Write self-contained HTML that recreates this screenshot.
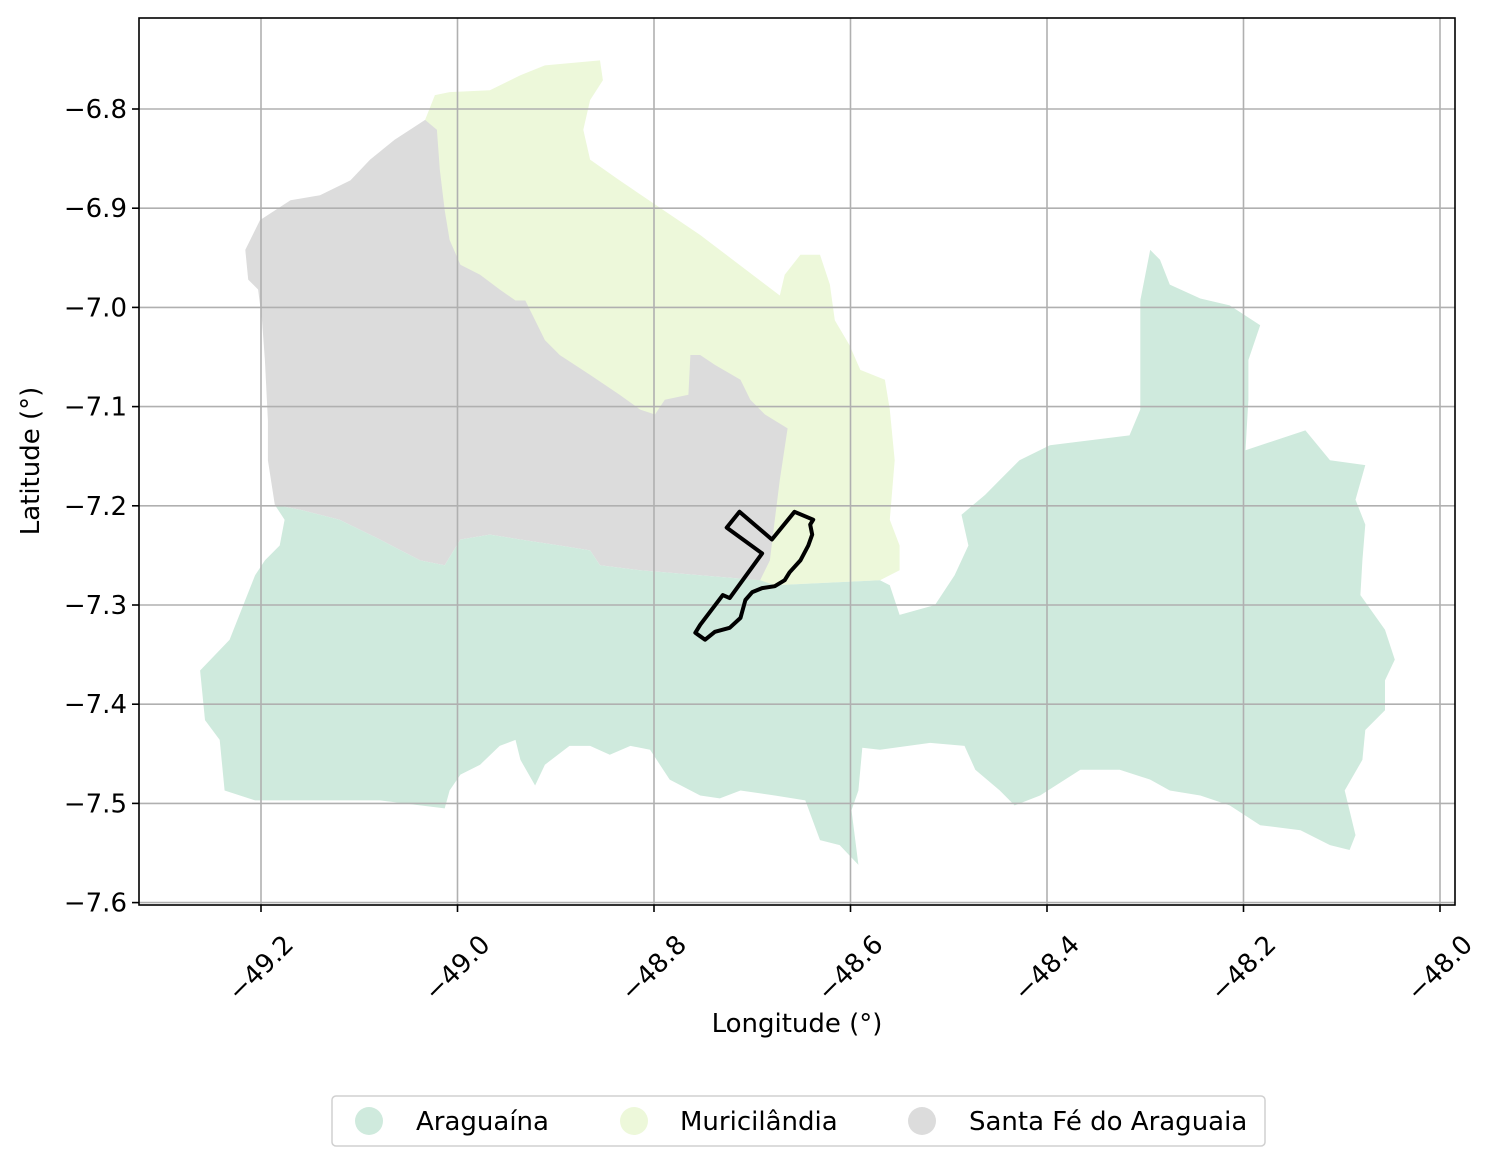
<!DOCTYPE html>
<html><head><meta charset="utf-8"><style>
html,body{margin:0;padding:0;background:#fff;}
svg{display:block;font-family:"DejaVu Sans","Liberation Sans",sans-serif;}
</style></head><body>
<svg id="chart" width="1498" height="1165" viewBox="0 0 1498 1165" xmlns="http://www.w3.org/2000/svg">
<g id="regions"></g>
<g id="grid"></g>
<g id="outline"></g>
<g id="axes"></g>
<text x="797" y="1032" font-size="26" text-anchor="middle">Longitude (°)</text>
<text transform="translate(39,461) rotate(-90)" font-size="26" text-anchor="middle">Latitude (°)</text>
<g>
<rect x="332" y="1096" width="933" height="50" rx="4" fill="#fff" stroke="#d0d0d0" stroke-width="1.5"/>
<g><circle cx="369" cy="1121" r="14" fill="#cfeadd"/><text x="416" y="1130" font-size="26">Araguaína</text></g>
<g><circle cx="634" cy="1121" r="14" fill="#edf8da"/><text x="680" y="1130" font-size="26">Muricilândia</text></g>
<g><circle cx="922" cy="1121" r="14" fill="#dcdcdc"/><text x="969" y="1130" font-size="26">Santa Fé do Araguaia</text></g>
</g>
</svg>
<script>
const xTicks=[-49.2,-49.0,-48.8,-48.6,-48.4,-48.2,-48.0];
const xTickLabels=["−49.2","−49.0","−48.8","−48.6","−48.4","−48.2","−48.0"];
const yTicks=[-6.8,-6.9,-7.0,-7.1,-7.2,-7.3,-7.4,-7.5,-7.6];
const yTickLabels=["−6.8","−6.9","−7.0","−7.1","−7.2","−7.3","−7.4","−7.5","−7.6"];
const muricilandia=[[-49.033,-6.811],[-49.023,-6.786],[-49.008,-6.783],[-48.967,-6.781],[-48.936,-6.766],[-48.911,-6.756],[-48.855,-6.751],[-48.852,-6.771],[-48.865,-6.791],[-48.872,-6.821],[-48.865,-6.851],[-48.835,-6.872],[-48.753,-6.927],[-48.672,-6.988],[-48.667,-6.967],[-48.651,-6.947],[-48.631,-6.947],[-48.621,-6.977],[-48.616,-7.013],[-48.601,-7.038],[-48.590,-7.063],[-48.565,-7.073],[-48.560,-7.103],[-48.555,-7.154],[-48.560,-7.214],[-48.550,-7.240],[-48.550,-7.265],[-48.570,-7.275],[-48.677,-7.280],[-48.753,-7.265],[-48.957,-7.144],[-49.018,-6.892]];
const santaFe=[[-49.033,-6.811],[-49.021,-6.821],[-49.018,-6.861],[-49.013,-6.902],[-49.008,-6.932],[-48.997,-6.957],[-48.977,-6.967],[-48.957,-6.982],[-48.941,-6.993],[-48.931,-6.993],[-48.921,-7.013],[-48.911,-7.033],[-48.896,-7.048],[-48.865,-7.068],[-48.835,-7.088],[-48.814,-7.103],[-48.799,-7.108],[-48.789,-7.093],[-48.765,-7.088],[-48.763,-7.048],[-48.753,-7.048],[-48.738,-7.058],[-48.712,-7.073],[-48.702,-7.093],[-48.687,-7.108],[-48.664,-7.122],[-48.672,-7.174],[-48.677,-7.214],[-48.682,-7.255],[-48.692,-7.275],[-48.753,-7.270],[-48.814,-7.265],[-48.855,-7.260],[-48.865,-7.245],[-48.896,-7.240],[-48.936,-7.234],[-48.967,-7.229],[-48.997,-7.234],[-49.013,-7.260],[-49.038,-7.255],[-49.079,-7.234],[-49.120,-7.214],[-49.160,-7.204],[-49.186,-7.199],[-49.193,-7.154],[-49.193,-7.114],[-49.196,-7.053],[-49.199,-7.013],[-49.203,-6.982],[-49.213,-6.972],[-49.216,-6.942],[-49.201,-6.912],[-49.170,-6.892],[-49.140,-6.887],[-49.109,-6.872],[-49.089,-6.851],[-49.064,-6.831]];
const araguaina=[[-49.186,-7.199],[-49.160,-7.204],[-49.120,-7.214],[-49.079,-7.234],[-49.038,-7.255],[-49.013,-7.260],[-48.997,-7.234],[-48.967,-7.229],[-48.936,-7.234],[-48.896,-7.240],[-48.865,-7.245],[-48.855,-7.260],[-48.814,-7.265],[-48.753,-7.270],[-48.692,-7.275],[-48.677,-7.280],[-48.570,-7.275],[-48.560,-7.280],[-48.550,-7.310],[-48.514,-7.300],[-48.494,-7.270],[-48.480,-7.240],[-48.487,-7.209],[-48.463,-7.189],[-48.448,-7.174],[-48.428,-7.154],[-48.397,-7.139],[-48.356,-7.134],[-48.316,-7.129],[-48.305,-7.103],[-48.305,-6.993],[-48.295,-6.942],[-48.285,-6.952],[-48.275,-6.977],[-48.244,-6.991],[-48.214,-6.998],[-48.183,-7.018],[-48.195,-7.053],[-48.195,-7.093],[-48.198,-7.144],[-48.137,-7.124],[-48.112,-7.154],[-48.076,-7.159],[-48.086,-7.194],[-48.076,-7.219],[-48.079,-7.255],[-48.081,-7.290],[-48.056,-7.325],[-48.046,-7.355],[-48.056,-7.376],[-48.056,-7.406],[-48.076,-7.426],[-48.079,-7.456],[-48.097,-7.487],[-48.086,-7.532],[-48.092,-7.547],[-48.112,-7.542],[-48.142,-7.527],[-48.183,-7.522],[-48.214,-7.502],[-48.244,-7.492],[-48.275,-7.487],[-48.295,-7.476],[-48.326,-7.466],[-48.366,-7.466],[-48.407,-7.492],[-48.433,-7.502],[-48.448,-7.487],[-48.473,-7.466],[-48.484,-7.442],[-48.519,-7.439],[-48.570,-7.446],[-48.588,-7.444],[-48.592,-7.487],[-48.599,-7.507],[-48.592,-7.562],[-48.611,-7.542],[-48.631,-7.537],[-48.646,-7.497],[-48.677,-7.492],[-48.712,-7.487],[-48.733,-7.495],[-48.753,-7.492],[-48.784,-7.476],[-48.804,-7.446],[-48.824,-7.442],[-48.845,-7.451],[-48.865,-7.442],[-48.886,-7.442],[-48.911,-7.461],[-48.921,-7.482],[-48.936,-7.456],[-48.941,-7.436],[-48.957,-7.442],[-48.977,-7.461],[-48.997,-7.471],[-49.008,-7.487],[-49.013,-7.505],[-49.038,-7.502],[-49.079,-7.497],[-49.130,-7.497],[-49.170,-7.497],[-49.206,-7.497],[-49.237,-7.487],[-49.242,-7.436],[-49.257,-7.416],[-49.262,-7.366],[-49.232,-7.335],[-49.216,-7.295],[-49.206,-7.270],[-49.196,-7.255],[-49.181,-7.240],[-49.176,-7.214]];
const cityOutline=[[-48.758,-7.328],[-48.748,-7.335],[-48.738,-7.327],[-48.723,-7.323],[-48.712,-7.313],[-48.707,-7.295],[-48.700,-7.287],[-48.690,-7.283],[-48.677,-7.281],[-48.667,-7.275],[-48.662,-7.267],[-48.651,-7.255],[-48.643,-7.240],[-48.639,-7.229],[-48.641,-7.219],[-48.638,-7.214],[-48.657,-7.206],[-48.680,-7.234],[-48.713,-7.206],[-48.726,-7.222],[-48.690,-7.248],[-48.723,-7.293],[-48.730,-7.290],[-48.753,-7.320]];

const NS='http://www.w3.org/2000/svg';
const X0=139,X1=1455,Y0=18,Y1=905;
function xs(lon){return 261+(lon+49.2)*982.5;}
function ys(lat){return 109+(-6.8-lat)*992;}
function pts(arr){return arr.map(p=>xs(p[0]).toFixed(1)+','+ys(p[1]).toFixed(1)).join(' ');}
const regions=document.getElementById('regions');
function poly(parent,arr,fill,stroke,sw){
  const el=document.createElementNS(NS,'polygon');
  el.setAttribute('points',pts(arr));
  el.setAttribute('fill',fill);
  if(stroke){el.setAttribute('stroke',stroke);el.setAttribute('stroke-width',sw);el.setAttribute('stroke-linejoin','round');}
  parent.appendChild(el);return el;
}
let e;
e=poly(regions,muricilandia,'#edf8da');


e=poly(regions,santaFe,'#dcdcdc');


e=poly(regions,araguaina,'#cfeadd');



const grid=document.getElementById('grid');
const axes=document.getElementById('axes');
function line(parent,x1,y1,x2,y2,c,w){const l=document.createElementNS(NS,'line');l.setAttribute('x1',x1);l.setAttribute('y1',y1);l.setAttribute('x2',x2);l.setAttribute('y2',y2);l.setAttribute('stroke',c);l.setAttribute('stroke-width',w);parent.appendChild(l);return l;}
xTicks.forEach((v,i)=>{
  const x=xs(v);
  let g=line(grid,x,Y0,x,Y1,'#b0b0b0',1.6);
  
  
  let t=line(axes,x,Y1,x,Y1+7,'#000',1.6);
  
  
  const tx=document.createElementNS(NS,'text');
  tx.setAttribute('x',x+34);tx.setAttribute('y',946);
  tx.setAttribute('transform','rotate(-45 '+(x+34)+' 946)');
  tx.setAttribute('text-anchor','end');tx.setAttribute('font-size','26');
  tx.textContent=xTickLabels[i];
  
  
  axes.appendChild(tx);
});
yTicks.forEach((v,i)=>{
  const y=ys(v);
  let g=line(grid,X0,y,X1,y,'#b0b0b0',1.6);
  
  
  let t=line(axes,X0-7,y,X0,y,'#000',1.6);
  
  
  const tx=document.createElementNS(NS,'text');
  tx.setAttribute('x',X0-12);tx.setAttribute('y',y+9);
  tx.setAttribute('text-anchor','end');tx.setAttribute('font-size','26');
  tx.textContent=yTickLabels[i];
  
  
  axes.appendChild(tx);
});
const frame=document.createElementNS(NS,'rect');
frame.setAttribute('x',X0);frame.setAttribute('y',Y0);frame.setAttribute('width',X1-X0);frame.setAttribute('height',Y1-Y0);
frame.setAttribute('fill','none');frame.setAttribute('stroke','#000');frame.setAttribute('stroke-width','1.6');


axes.appendChild(frame);
e=poly(document.getElementById('outline'),cityOutline,'none','#000',4);


</script>
</body></html>
